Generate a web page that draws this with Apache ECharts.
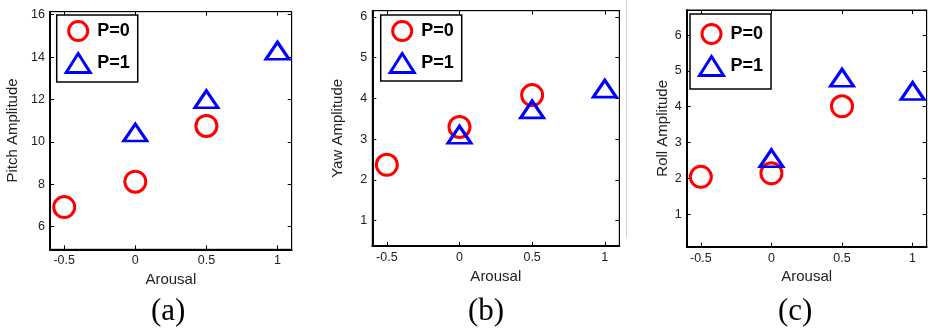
<!DOCTYPE html>
<html>
<head>
<meta charset="utf-8">
<script src="https://cdn.jsdelivr.net/npm/echarts@6/dist/echarts.min.js"></script>
<style>html,body{margin:0;padding:0;background:#fff}#c{width:928px;height:331px}</style>
</head>
<body>
<div id="c"></div>
<script>
// ---- data ----
const xTicks = [-0.5, 0, 0.5, 1];
const xP0 = [-0.5, 0, 0.5];
const xP1 = [0, 0.5, 1];
const pitchP0 = [6.92, 8.12, 10.75];
const pitchP1 = [10.44, 12.01, 14.30];
const yawP0 = [2.37, 3.30, 4.08];
const yawP1 = [3.11, 3.73, 4.24];
const rollP0 = [2.04, 2.14, 4.01];
const rollP1 = [2.56, 4.81, 4.44];
const pitchTicks = [6, 8, 10, 12, 14, 16];
const yawTicks = [1, 2, 3, 4, 5, 6];
const rollTicks = [1, 2, 3, 4, 5, 6];
const yNames = ['Pitch Amplitude', 'Yaw Amplitude', 'Roll Amplitude'];
const xName = 'Arousal';
const captions = ['(a)', '(b)', '(c)'];
const legendNames = ['P=0', 'P=1'];

// ---- layout ----
const panels = [
  {grid:{left:50, right:636.3, top:11.7, bottom:81.7}, ymin:4.93, ymax:16.14, yTicks:pitchTicks, p0:pitchP0, p1:pitchP1, nameGap:30,
   legend:{left:56.7, top:15, padding:[5,8,8,8]}, cap:171},
  {grid:{left:372.3, right:308.7, top:10.7, bottom:85}, ymin:0.38, ymax:6.15, yTicks:yawTicks, p0:yawP0, p1:yawP1, nameGap:27,
   legend:{left:380.7, top:15, padding:[5,8,7,8]}, cap:488},
  {grid:{left:686.7, right:1.3, top:10, bottom:84.3}, ymin:0.09, ymax:6.70, yTicks:rollTicks, p0:rollP0, p1:rollP1, nameGap:14,
   legend:{left:690, top:14, padding:[9,8,12,8]}, cap:798}
];

const font = 'Liberation Sans, Arial, Helvetica, sans-serif';
const grids = [], xAxes = [], yAxes = [], series = [], legends = [], graphics = [];

panels.forEach((p, i) => {
  grids.push(Object.assign({show:true, borderColor:'#000', borderWidth:1, backgroundColor:'#fff'}, p.grid));
  const tick = {show:true, inside:true, length:4, lineStyle:{color:'#000', width:1}, customValues:xTicks};
  xAxes.push({type:'value', gridIndex:i, min:-0.6, max:1.1, position:'bottom',
    axisLine:{show:true, onZero:false, lineStyle:{color:'#000', width:2}},
    axisTick:tick, splitLine:{show:false},
    axisLabel:{customValues:xTicks, color:'#222', fontSize:12.5, fontFamily:font, margin:5},
    name:xName, nameLocation:'middle', nameGap:20, nameTextStyle:{color:'#222', fontSize:15, fontFamily:font}});
  xAxes.push({type:'value', gridIndex:i, min:-0.6, max:1.1, position:'top',
    axisLine:{show:true, onZero:false, lineStyle:{color:'#000', width:1}},
    axisTick:tick, splitLine:{show:false}, axisLabel:{show:false}});
  const ytick = {show:true, inside:true, length:4, lineStyle:{color:'#000', width:1}, customValues:p.yTicks};
  yAxes.push({type:'value', gridIndex:i, min:p.ymin, max:p.ymax, position:'left',
    axisLine:{show:true, onZero:false, lineStyle:{color:'#000', width:2}},
    axisTick:ytick, splitLine:{show:false},
    axisLabel:{customValues:p.yTicks, color:'#222', fontSize:12.5, fontFamily:font, margin:5},
    name:yNames[i], nameLocation:'middle', nameGap:p.nameGap, nameTextStyle:{color:'#222', fontSize:15, fontFamily:font}});
  yAxes.push({type:'value', gridIndex:i, min:p.ymin, max:p.ymax, position:'right',
    axisLine:{show:true, onZero:false, lineStyle:{color:'#000', width:1}},
    axisTick:ytick, splitLine:{show:false}, axisLabel:{show:false}});
  series.push({type:'scatter', name:legendNames[0], xAxisIndex:2*i, yAxisIndex:2*i,
    data:xP0.map((x, k) => [x, p.p0[k]]), symbol:'circle', symbolSize:21,
    itemStyle:{color:'rgba(0,0,0,0)', borderColor:'#ff0000', borderWidth:3, opacity:1}, z:2});
  series.push({type:'scatter', name:legendNames[1], xAxisIndex:2*i, yAxisIndex:2*i,
    data:xP1.map((x, k) => [x, p.p1[k]]), symbol:'triangle', symbolSize:[23,17],
    itemStyle:{color:'rgba(0,0,0,0)', borderColor:'#0000ff', borderWidth:3, opacity:1}, z:3});
  legends.push(Object.assign({orient:'vertical', data:legendNames, itemWidth:24, itemHeight:19, itemGap:10,
    borderColor:'#000', borderWidth:1.5, backgroundColor:'#fff', selectedMode:false,
    itemStyle:{borderWidth:3, opacity:1},
    textStyle:{fontSize:18, fontWeight:'bold', color:'#000', fontFamily:font, padding:[0,0,0,2]}}, p.legend));
  graphics.push({type:'text', left:p.cap - 20, top:296, style:{text:captions[i], fontSize:31, fontFamily:'Liberation Serif, Times New Roman, serif', fill:'#000', width:40, align:'center'}});
});
graphics.push({type:'rect', shape:{x:626, y:0, width:1, height:237}, style:{fill:'#cfcfcf'}});

const chart = echarts.init(document.getElementById('c'), null, {renderer:'canvas'});
chart.setOption({animation:false, grid:grids, xAxis:xAxes, yAxis:yAxes, series:series, legend:legends, graphic:graphics});
</script>
</body>
</html>
